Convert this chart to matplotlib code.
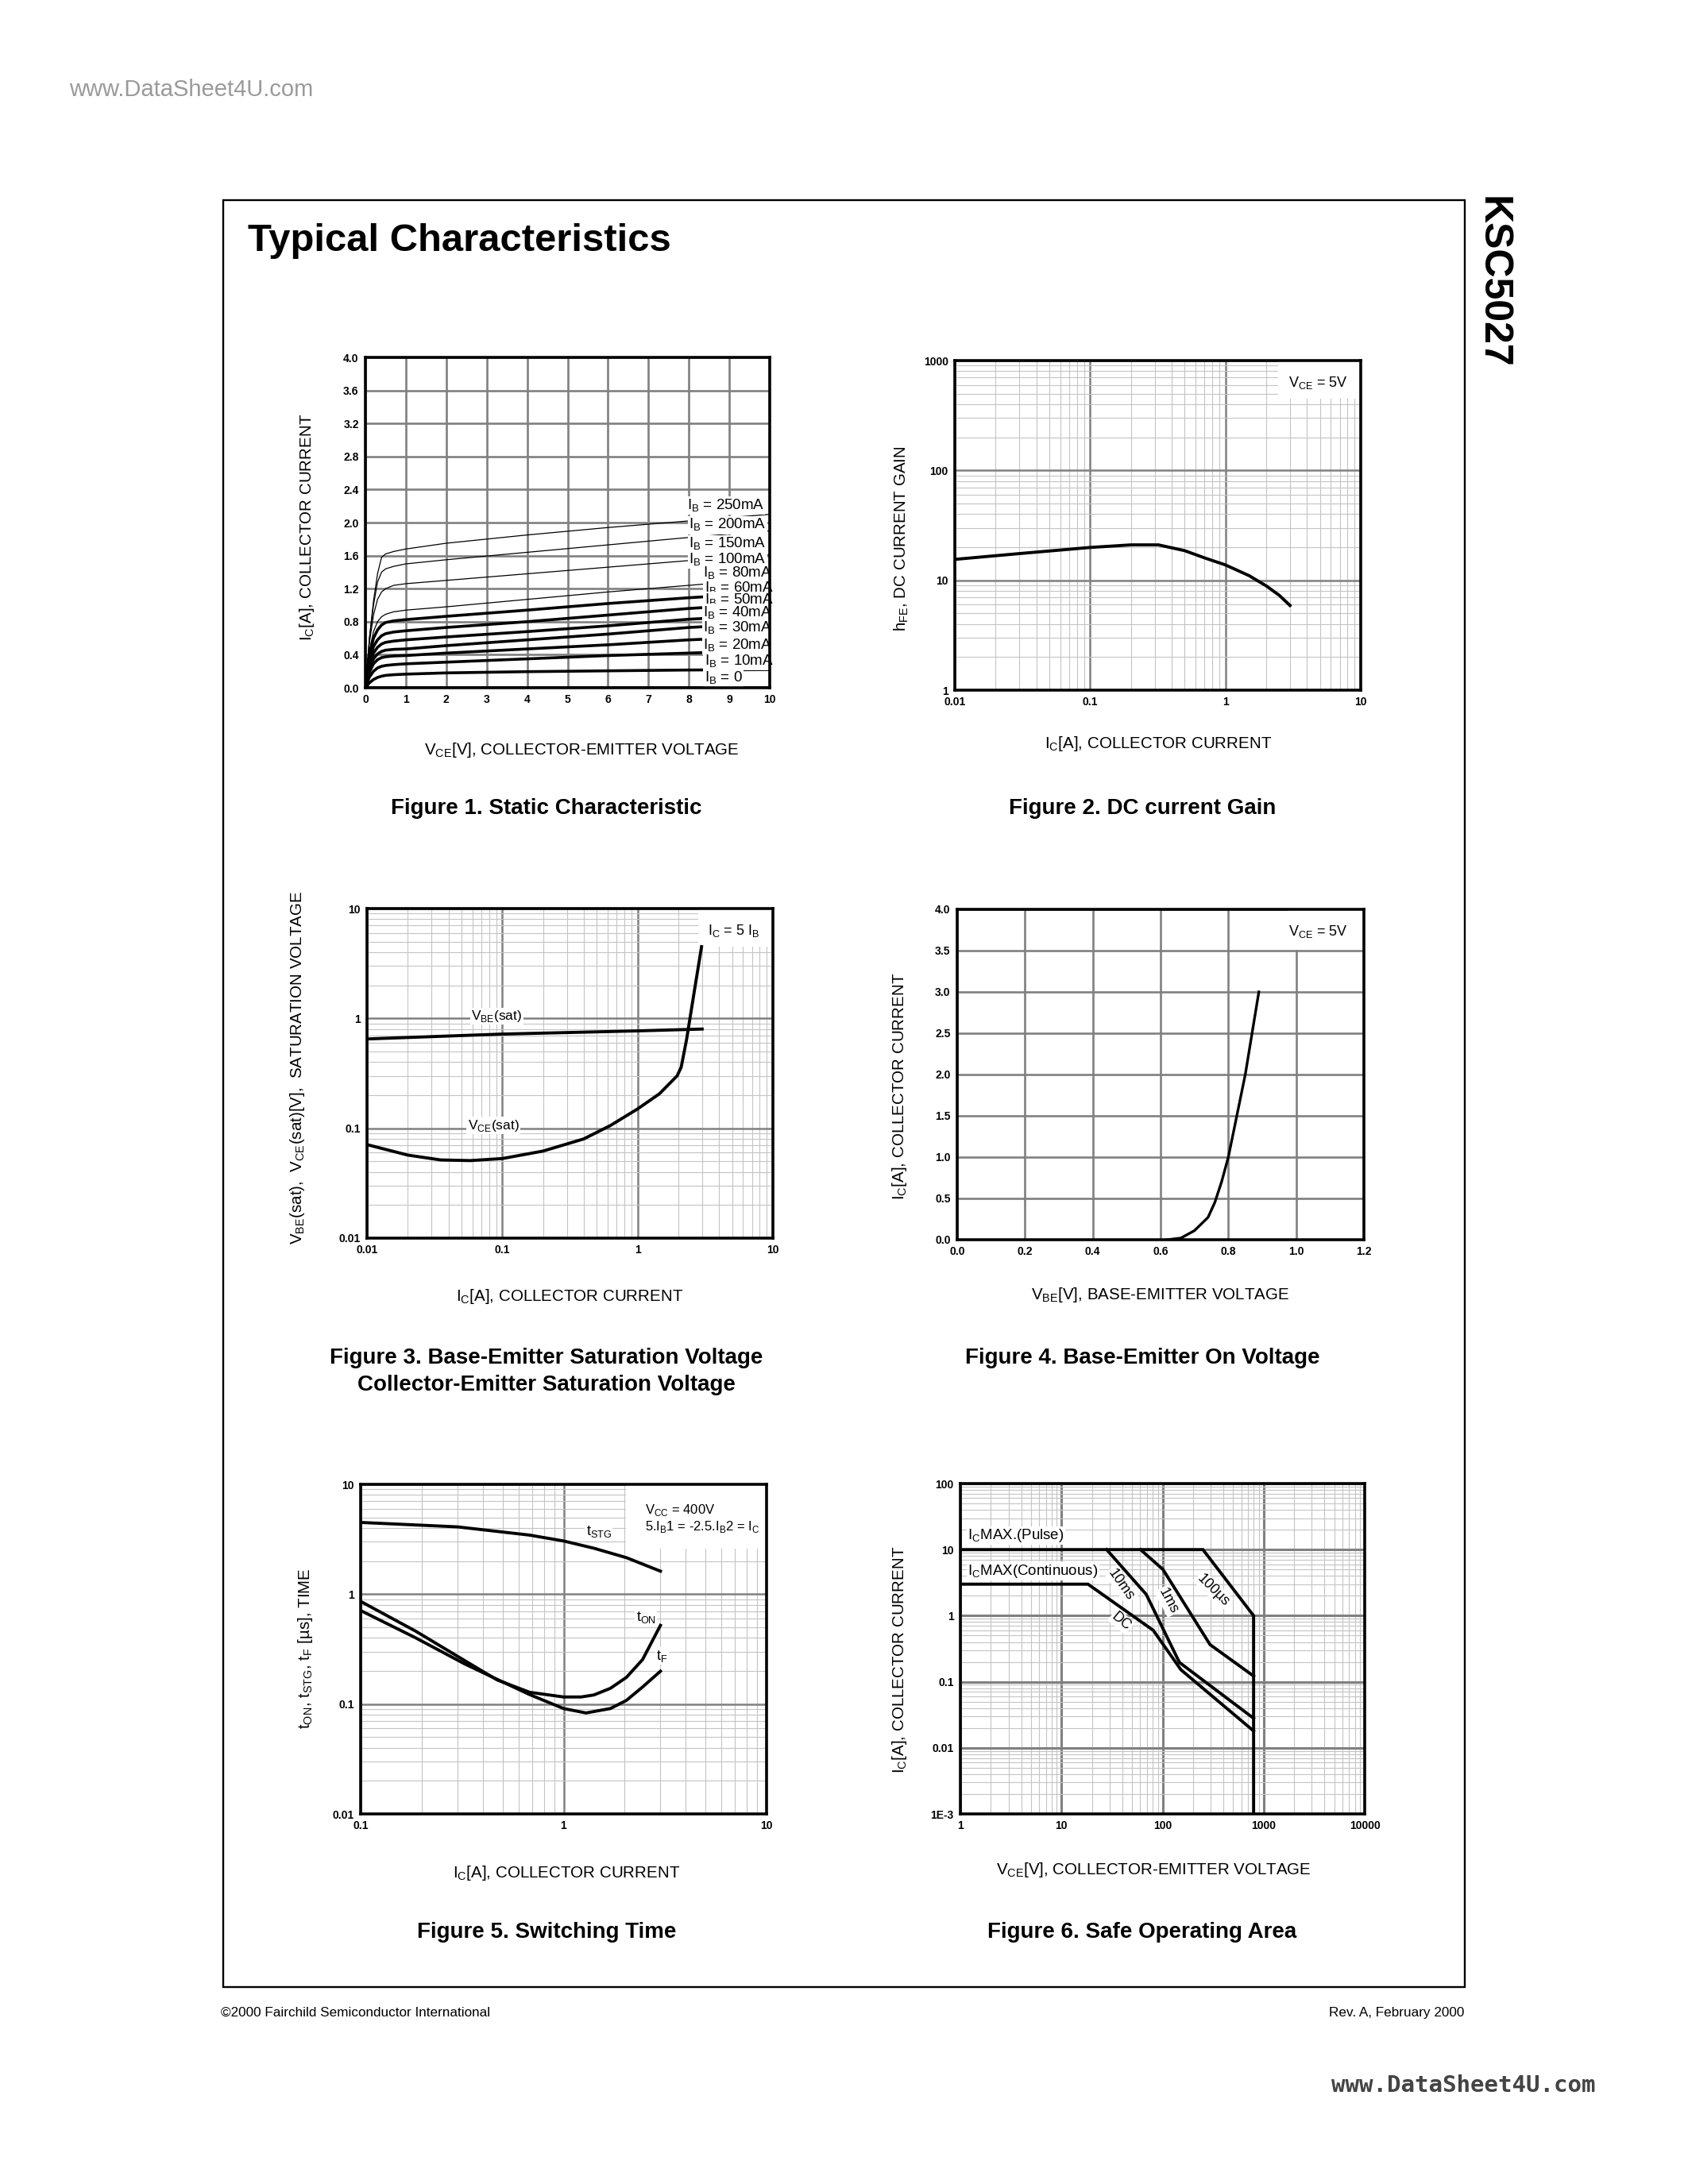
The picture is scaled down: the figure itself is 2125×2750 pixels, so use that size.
import numpy as np
import matplotlib
matplotlib.use('Agg')
import matplotlib.pyplot as plt
from matplotlib.patches import Rectangle
from matplotlib.ticker import LogLocator, NullFormatter

plt.rcParams.update({
    "font.family": ["Liberation Sans", "DejaVu Sans"],
    "mathtext.fontset": "custom",
    "mathtext.rm": "Liberation Sans",
    "axes.linewidth": 2.6,
})

# ---- Figure 1: static characteristic ----
VCE_STATIC = [0, 0.05, 0.1, 0.2, 0.3, 0.4, 0.5, 0.7, 1, 2, 4, 6, 8, 10]
IB_LABELS = ['250mA', '200mA', '150mA', '100mA', '80mA', '60mA',
             '50mA', '40mA', '30mA', '20mA', '10mA', '0']
IC_STATIC = [
    [0, 0.25, 0.60, 1.05, 1.38, 1.58, 1.62, 1.65, 1.68, 1.75, 1.85, 1.94, 2.02, 2.10],
    [0, 0.30, 0.60, 1.00, 1.28, 1.40, 1.44, 1.47, 1.50, 1.55, 1.64, 1.73, 1.82, 1.90],
    [0, 0.30, 0.55, 0.88, 1.07, 1.16, 1.20, 1.24, 1.26, 1.30, 1.38, 1.46, 1.54, 1.61],
    [0, 0.25, 0.45, 0.68, 0.80, 0.86, 0.89, 0.92, 0.94, 0.98, 1.07, 1.16, 1.24, 1.32],
    [0, 0.20, 0.40, 0.60, 0.70, 0.76, 0.79, 0.81, 0.825, 0.865, 0.94, 1.02, 1.09, 1.15],
    [0, 0.18, 0.33, 0.50, 0.58, 0.63, 0.655, 0.675, 0.69, 0.73, 0.80, 0.88, 0.96, 1.02],
    [0, 0.15, 0.28, 0.42, 0.49, 0.53, 0.55, 0.565, 0.58, 0.615, 0.68, 0.75, 0.83, 0.88],
    [0, 0.13, 0.23, 0.35, 0.41, 0.44, 0.455, 0.465, 0.47, 0.51, 0.58, 0.65, 0.73, 0.78],
    [0, 0.10, 0.19, 0.29, 0.34, 0.365, 0.375, 0.385, 0.39, 0.42, 0.47, 0.52, 0.58, 0.62],
    [0, 0.07, 0.13, 0.20, 0.24, 0.26, 0.27, 0.28, 0.29, 0.31, 0.35, 0.39, 0.42, 0.45],
    [0, 0.03, 0.06, 0.10, 0.125, 0.14, 0.15, 0.158, 0.165, 0.18, 0.195, 0.205, 0.215, 0.22],
    [0, 0, 0, 0, 0, 0, 0, 0, 0, 0, 0, 0, 0, 0],
]

# ---- Figure 2: DC current gain ----
IC_GAIN = [0.01, 0.03, 0.1, 0.2, 0.32, 0.5, 0.7, 1.0, 1.5, 2.0, 2.5, 3.0]
HFE = [15.5, 17.5, 19.9, 21.0, 21.0, 18.6, 16.0, 13.8, 11.0, 8.9, 7.3, 5.9]

# ---- Figure 3: saturation voltages ----
IC_VBE = [0.01, 0.1, 1.0, 3.0]
VBE_SAT = [0.65, 0.72, 0.77, 0.80]
IC_VCE = [0.01, 0.02, 0.035, 0.058, 0.1, 0.2, 0.4, 0.63, 1.0, 1.45, 1.96, 2.1, 2.3, 2.65, 2.97]
VCE_SAT = [0.071, 0.057, 0.0515, 0.0508, 0.053, 0.062, 0.08, 0.106, 0.15, 0.206, 0.30, 0.36, 0.64, 1.9, 4.5]

# ---- Figure 4: base-emitter on voltage ----
VBE_ON = [0.62, 0.66, 0.70, 0.74, 0.76, 0.78, 0.80, 0.825, 0.85, 0.87, 0.89]
IC_ON = [0.0, 0.02, 0.11, 0.27, 0.45, 0.70, 1.0, 1.5, 2.0, 2.5, 3.0]

# ---- Figure 5: switching time ----
IC_STG = [0.1, 0.3, 0.68, 1.0, 1.41, 2.04, 3.0]
T_STG = [4.5, 4.1, 3.45, 3.05, 2.62, 2.15, 1.62]
IC_TON = [0.1, 0.187, 0.324, 0.47, 0.68, 1.0, 1.22, 1.41, 1.7, 2.04, 2.45, 3.0]
T_ON = [0.86, 0.46, 0.25, 0.166, 0.128, 0.116, 0.116, 0.121, 0.139, 0.175, 0.254, 0.52]
IC_TF = [0.1, 0.187, 0.324, 0.47, 0.68, 1.0, 1.29, 1.7, 2.04, 2.45, 3.0]
T_F = [0.71, 0.40, 0.233, 0.168, 0.122, 0.091, 0.083, 0.091, 0.108, 0.143, 0.199]

# ---- Figure 6: safe operating area ----
SOA_100US_V = [1, 251, 796, 796]
SOA_100US_I = [10, 10, 1, 0.001]
SOA_1MS_V = [60.6, 101, 295, 796]
SOA_1MS_I = [10, 5.0, 0.365, 0.122]
SOA_10MS_V = [28, 69, 147, 796]
SOA_10MS_I = [10, 2.1, 0.196, 0.028]
SOA_DC_V = [1, 18.3, 81, 152, 796]
SOA_DC_I = [3, 3, 0.6, 0.152, 0.018]

W, H = 2125, 2750
fig = plt.figure(figsize=(W / 100, H / 100), dpi=100)

def axes_px(l, t, r, b):
    return fig.add_axes([l / W, 1 - b / H, (r - l) / W, (b - t) / H])

def ftext(x, y, s, **kw):
    return fig.text(x / W, 1 - y / H, s, **kw)

def style(ax):
    ax.set_axisbelow(True)
    for sp in ax.spines.values():
        sp.set_linewidth(2.6)
        sp.set_zorder(6)
    ax.tick_params(which='both', length=0, pad=6)

def ticks(ax, xt, xl, yt, yl):
    ax.set_xticks(xt)
    ax.set_xticklabels(xl, fontweight='bold', fontsize=10)
    ax.set_yticks(yt)
    ax.set_yticklabels(yl, fontweight='bold', fontsize=10)

def loggrid(ax, major_lw=1.8):
    for axis in (ax.xaxis, ax.yaxis):
        axis.set_minor_locator(LogLocator(base=10, subs=np.arange(2, 10), numticks=20))
        axis.set_minor_formatter(NullFormatter())
    ax.grid(which='major', color='#808080', lw=major_lw)
    ax.grid(which='minor', color='#c4c4c4', lw=0.8)

def whitebox(ax, x0, x1, y0, y1):
    ax.add_patch(Rectangle((x0, y0), x1 - x0, y1 - y0, facecolor='white',
                           edgecolor='none', zorder=1))

WB = dict(facecolor='white', edgecolor='none', pad=1)
LAB = 14.8
CAP = 20

# page decorations
ftext(87, 113, 'www.DataSheet4U.com', fontsize=21, color='#9a9a9a', ha='left', va='center')
fig.patches.append(Rectangle((281 / W, 1 - 2502 / H), (1844 - 281) / W, (2502 - 252) / H,
                             transform=fig.transFigure, fill=False, lw=1.7, edgecolor='black'))
ftext(312, 316, 'Typical Characteristics', fontsize=35.3, fontweight='bold', ha='left', va='baseline')
ftext(1879, 247, 'KSC5027', fontsize=36, fontweight='bold', rotation=-90, ha='center', va='top')
ftext(278, 2534, '\u00a92000 Fairchild Semiconductor International', fontsize=12.3, ha='left', va='center')
ftext(1843, 2534, 'Rev. A, February 2000', fontsize=12.3, ha='right', va='center')
ftext(1842, 2626, 'www.DataSheet4U.com', fontsize=21, fontweight='bold', color='#444444',
      family='DejaVu Sans Mono', ha='center', va='center')

# ---------------- Figure 1 ----------------
ax1 = axes_px(460, 450, 969, 866)
style(ax1)
ax1.set_xlim(0, 10)
ax1.set_ylim(0, 4)
ticks(ax1, range(11), [str(v) for v in range(11)],
      np.arange(0, 4.01, 0.4), ['%.1f' % v for v in np.arange(0, 4.01, 0.4)])
ax1.grid(color='#808080', lw=1.9)
for i, (lab, ic) in enumerate(zip(IB_LABELS, IC_STATIC)):
    lw = 0.9 if i < 4 else 2.6
    ax1.plot(VCE_STATIC, ic, color='black', lw=lw, zorder=2)
lab_x = [7.95, 8.0, 8.0, 8.0, 8.35, 8.38, 8.38, 8.35, 8.35, 8.35, 8.38, 8.38]
lab_y = [2.205, 1.97, 1.74, 1.55, 1.386, 1.205, 1.056, 0.908, 0.72, 0.51, 0.32, 0.115]
for lab, x, y in zip(IB_LABELS, lab_x, lab_y):
    ax1.text(x, y, r'I$_\mathregular{B}$ = ' + lab, fontsize=13.5, ha='left', va='center',
             bbox=WB, zorder=4)
ftext(387, 664, r'I$_\mathregular{C}$[A], COLLECTOR CURRENT', fontsize=LAB, rotation=90,
      ha='center', va='center')
ftext(732, 944, r'V$_\mathregular{CE}$[V], COLLECTOR-EMITTER VOLTAGE', fontsize=LAB,
      ha='center', va='center')
ftext(688, 1025, 'Figure 1. Static Characteristic', fontsize=CAP, fontweight='bold',
      ha='center', va='baseline')

# ---------------- Figure 2 ----------------
ax2 = axes_px(1202, 454, 1713, 869)
style(ax2)
ax2.set_xscale('log')
ax2.set_yscale('log')
ax2.set_xlim(0.01, 10)
ax2.set_ylim(1, 1000)
ticks(ax2, [0.01, 0.1, 1, 10], ['0.01', '0.1', '1', '10'],
      [1, 10, 100, 1000], ['1', '10', '100', '1000'])
loggrid(ax2)
whitebox(ax2, 2.46, 10, 447, 1000)
ax2.plot(IC_GAIN, HFE, color='black', lw=2.8, zorder=3)
ax2.text(4.85, 630, r'V$_\mathregular{CE}$ = 5V', fontsize=13, ha='center', va='center', zorder=4)
ftext(1135, 678, r'h$_\mathregular{FE}$, DC CURRENT GAIN', fontsize=LAB, rotation=90,
      ha='center', va='center')
ftext(1458, 936, r'I$_\mathregular{C}$[A], COLLECTOR CURRENT', fontsize=LAB,
      ha='center', va='center')
ftext(1438, 1025, 'Figure 2. DC current Gain', fontsize=CAP, fontweight='bold',
      ha='center', va='baseline')

# ---------------- Figure 3 ----------------
ax3 = axes_px(462, 1144, 973, 1559)
style(ax3)
ax3.set_xscale('log')
ax3.set_yscale('log')
ax3.set_xlim(0.01, 10)
ax3.set_ylim(0.01, 10)
ticks(ax3, [0.01, 0.1, 1, 10], ['0.01', '0.1', '1', '10'],
      [0.01, 0.1, 1, 10], ['0.01', '0.1', '1', '10'])
loggrid(ax3)
whitebox(ax3, 2.79, 10, 4.5, 10)
ax3.plot(IC_VBE, VBE_SAT, color='black', lw=2.8, zorder=3)
ax3.plot(IC_VCE, VCE_SAT, color='black', lw=2.8, zorder=3)
ax3.text(0.091, 1.05, r'V$_\mathregular{BE}$(sat)', fontsize=12.5, ha='center', va='center',
         bbox=WB, zorder=4)
ax3.text(0.086, 0.106, r'V$_\mathregular{CE}$(sat)', fontsize=12.5, ha='center', va='center',
         bbox=WB, zorder=4)
ax3.text(5.1, 6.3, r'I$_\mathregular{C}$ = 5 I$_\mathregular{B}$', fontsize=13,
         ha='center', va='center', zorder=4)
ftext(375, 1344, r'V$_\mathregular{BE}$(sat),  V$_\mathregular{CE}$(sat)[V],  SATURATION VOLTAGE',
      fontsize=LAB, rotation=90, ha='center', va='center')
ftext(717, 1632, r'I$_\mathregular{C}$[A], COLLECTOR CURRENT', fontsize=LAB,
      ha='center', va='center')
ftext(688, 1717, 'Figure 3. Base-Emitter Saturation Voltage', fontsize=CAP, fontweight='bold',
      ha='center', va='baseline')
ftext(688, 1751, 'Collector-Emitter Saturation Voltage', fontsize=CAP, fontweight='bold',
      ha='center', va='baseline')

# ---------------- Figure 4 ----------------
ax4 = axes_px(1205, 1145, 1717, 1561)
style(ax4)
ax4.set_xlim(0, 1.2)
ax4.set_ylim(0, 4)
ticks(ax4, np.arange(0, 1.21, 0.2), ['%.1f' % v for v in np.arange(0, 1.21, 0.2)],
      np.arange(0, 4.01, 0.5), ['%.1f' % v for v in np.arange(0, 4.01, 0.5)])
ax4.grid(color='#808080', lw=1.9)
whitebox(ax4, 0.978, 1.2, 3.51, 4.0)
ax4.plot(VBE_ON, IC_ON, color='black', lw=2.4, zorder=3)
ax4.text(1.064, 3.73, r'V$_\mathregular{CE}$ = 5V', fontsize=13, ha='center', va='center', zorder=4)
ftext(1133, 1368, r'I$_\mathregular{C}$[A], COLLECTOR CURRENT', fontsize=LAB, rotation=90,
      ha='center', va='center')
ftext(1461, 1631, r'V$_\mathregular{BE}$[V], BASE-EMITTER VOLTAGE', fontsize=LAB,
      ha='center', va='center')
ftext(1438, 1717, 'Figure 4. Base-Emitter On Voltage', fontsize=CAP, fontweight='bold',
      ha='center', va='baseline')

# ---------------- Figure 5 ----------------
ax5 = axes_px(454, 1869, 965, 2284)
style(ax5)
ax5.set_xscale('log')
ax5.set_yscale('log')
ax5.set_xlim(0.1, 10)
ax5.set_ylim(0.01, 10)
ticks(ax5, [0.1, 1, 10], ['0.1', '1', '10'],
      [0.01, 0.1, 1, 10], ['0.01', '0.1', '1', '10'])
loggrid(ax5)
whitebox(ax5, 2.03, 10, 2.59, 10)
ax5.plot(IC_STG, T_STG, color='black', lw=2.8, zorder=3)
ax5.plot(IC_TON, T_ON, color='black', lw=2.8, zorder=3)
ax5.plot(IC_TF, T_F, color='black', lw=2.8, zorder=3)
ax5.text(1.49, 3.69, r't$_\mathregular{STG}$', fontsize=13, ha='center', va='center',
         bbox=WB, zorder=4)
ax5.text(2.55, 0.611, r't$_\mathregular{ON}$', fontsize=13, ha='center', va='center',
         bbox=WB, zorder=4)
ax5.text(3.06, 0.274, r't$_\mathregular{F}$', fontsize=13, ha='center', va='center',
         bbox=WB, zorder=4)
ax5.text(2.53, 5.87, r'V$_\mathregular{CC}$ = 400V', fontsize=12, ha='left', va='center', zorder=4)
ax5.text(2.53, 4.09, r'5.I$_\mathregular{B}$1 = -2.5.I$_\mathregular{B}$2 = I$_\mathregular{C}$',
         fontsize=12, ha='left', va='center', zorder=4)
ftext(385, 2076, r't$_\mathregular{ON}$, t$_\mathregular{STG}$, t$_\mathregular{F}$ [' + '\u00b5' + 's], TIME',
      fontsize=LAB, rotation=90, ha='center', va='center')
ftext(713, 2358, r'I$_\mathregular{C}$[A], COLLECTOR CURRENT', fontsize=LAB,
      ha='center', va='center')
ftext(688, 2440, 'Figure 5. Switching Time', fontsize=CAP, fontweight='bold',
      ha='center', va='baseline')

# ---------------- Figure 6 ----------------
ax6 = axes_px(1209, 1868, 1718, 2284)
style(ax6)
ax6.set_xscale('log')
ax6.set_yscale('log')
ax6.set_xlim(1, 10000)
ax6.set_ylim(0.001, 100)
ticks(ax6, [1, 10, 100, 1000, 10000], ['1', '10', '100', '1000', '10000'],
      [0.001, 0.01, 0.1, 1, 10, 100], ['1E-3', '0.01', '0.1', '1', '10', '100'])
loggrid(ax6, major_lw=2.2)
for v, i in [(SOA_100US_V, SOA_100US_I), (SOA_1MS_V, SOA_1MS_I),
             (SOA_10MS_V, SOA_10MS_I), (SOA_DC_V, SOA_DC_I)]:
    ax6.plot(v, i, color='black', lw=2.8, zorder=3, solid_joinstyle='miter')
ax6.text(1.18, 16.4, r'I$_\mathregular{C}$MAX.(Pulse)', fontsize=13.5, ha='left', va='center',
         bbox=WB, zorder=4)
ax6.text(1.18, 4.76, r'I$_\mathregular{C}$MAX(Continuous)', fontsize=13.5, ha='left', va='center',
         bbox=WB, zorder=4)
for s, x, y, rot in [('10ms', 39, 2.96, -55), ('1ms', 113, 1.67, -62),
                     ('100\u00b5s', 317, 2.44, -45), ('DC', 39, 0.82, -40)]:
    ax6.text(x, y, s, fontsize=13, rotation=rot, rotation_mode='anchor', ha='center', va='center',
             bbox=WB, zorder=4)
ftext(1133, 2090, r'I$_\mathregular{C}$[A], COLLECTOR CURRENT', fontsize=LAB, rotation=90,
      ha='center', va='center')
ftext(1452, 2355, r'V$_\mathregular{CE}$[V], COLLECTOR-EMITTER VOLTAGE', fontsize=LAB,
      ha='center', va='center')
ftext(1438, 2440, 'Figure 6. Safe Operating Area', fontsize=CAP, fontweight='bold',
      ha='center', va='baseline')

fig.savefig('out.png', dpi=100)
